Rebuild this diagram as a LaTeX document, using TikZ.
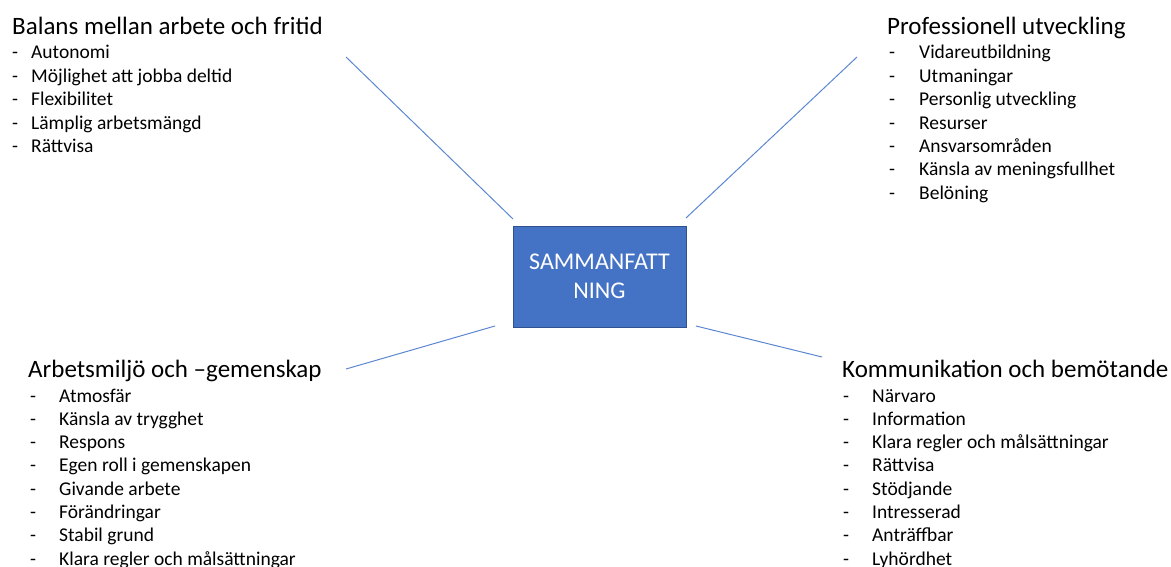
\documentclass[tikz,border=0pt]{standalone}
\usepackage{fontspec}
\setmainfont{Carlito}
\definecolor{boxblue}{HTML}{4472C4}
\definecolor{boxedge}{HTML}{2F528F}
\definecolor{linkblue}{HTML}{5B87D0}
\begin{document}
\begin{tikzpicture}[x=1pt,y=-1pt,
  head/.style={anchor=base west, inner sep=0pt, font=\fontsize{25}{30}\selectfont},
  item/.style={anchor=base west, inner sep=0pt, font=\fontsize{19.5}{23}\selectfont},
  link/.style={draw=linkblue, line width=1pt}]
\useasboundingbox (0,0) rectangle (1171,567);

% central box
\node[draw=boxedge, fill=boxblue, line width=0.8pt, minimum width=173pt,
      minimum height=101pt, inner sep=0pt, text=white, align=center,
      font=\fontsize{24}{29}\selectfont] (sum) at (599.5,276.5) {SAMMANFATT\\NING};

% spokes
\coordinate (tl1) at (346,57);  \coordinate (tl2) at (513,219);
\coordinate (tr1) at (857,57);  \coordinate (tr2) at (686,218);
\coordinate (bl1) at (346,369); \coordinate (bl2) at (495,326);
\coordinate (br1) at (822,357); \coordinate (br2) at (696,326);
\draw[link] (tl1) -- (tl2);
\draw[link] (tr1) -- (tr2);
\draw[link] (bl1) -- (bl2);
\draw[link] (br1) -- (br2);

% top left list
\node[head] (h1) at (12,35) {Balans mellan arbete och fritid};
\foreach \t [count=\i] in {Autonomi, Möjlighet att jobba deltid, Flexibilitet, Lämplig arbetsmängd, Rättvisa} {
  \node[item] (d1-\i) at (12,{59+23.4*(\i-1)}) {-};
  \node[item] (t1-\i) at (31,{59+23.4*(\i-1)}) {\t};
}

% top right list
\node[head] (h2) at (887,35) {Professionell utveckling};
\foreach \t [count=\i] in {Vidareutbildning, Utmaningar, Personlig utveckling, Resurser, Ansvarsområden, Känsla av meningsfullhet, Belöning} {
  \node[item] (d2-\i) at (889,{59+23.4*(\i-1)}) {-};
  \node[item] (t2-\i) at (919,{59+23.4*(\i-1)}) {\t};
}

% bottom left list
\node[head] (h3) at (28,377) {Arbetsmiljö och –gemenskap};
\foreach \t [count=\i] in {Atmosfär, Känsla av trygghet, Respons, Egen roll i gemenskapen, Givande arbete, Förändringar, Stabil grund, Klara regler och målsättningar} {
  \node[item] (d3-\i) at (30,{402+23.3*(\i-1)}) {-};
  \node[item] (t3-\i) at (59,{402+23.3*(\i-1)}) {\t};
}

% bottom right list
\node[head] (h4) at (842,377) {Kommunikation och bemötande};
\foreach \t [count=\i] in {Närvaro, Information, Klara regler och målsättningar, Rättvisa, Stödjande, Intresserad, Anträffbar, Lyhördhet} {
  \node[item] (d4-\i) at (843,{402+23.3*(\i-1)}) {-};
  \node[item] (t4-\i) at (872,{402+23.3*(\i-1)}) {\t};
}
\end{tikzpicture}
\end{document}
